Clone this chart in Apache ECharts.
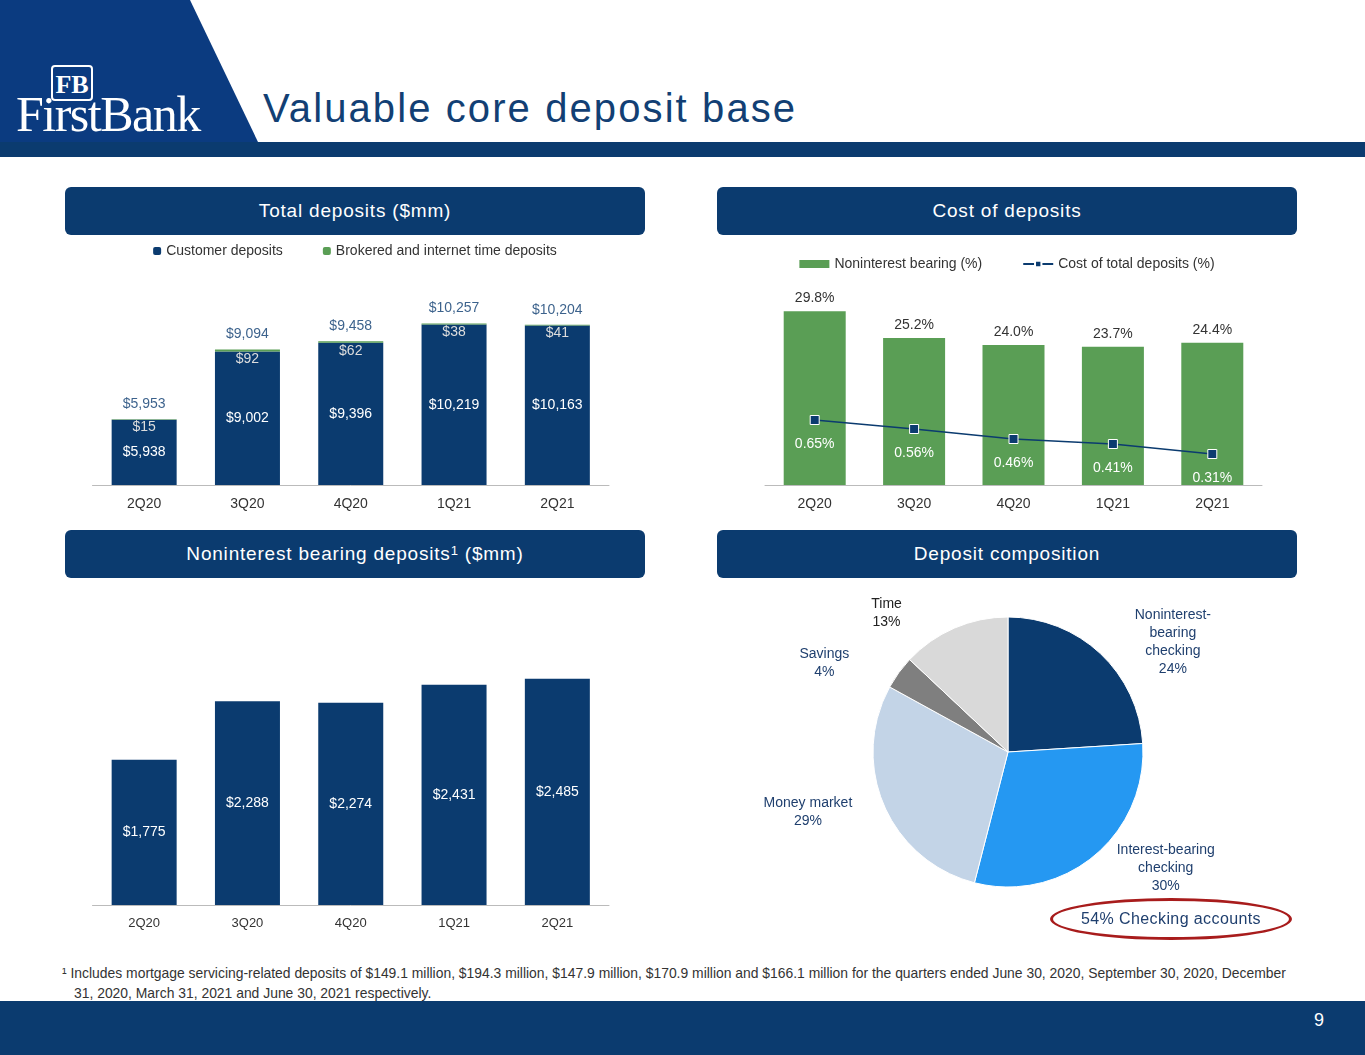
<!DOCTYPE html>
<html><head><meta charset="utf-8">
<script src="https://cdn.jsdelivr.net/npm/echarts@6/dist/echarts.min.js"></script>
<style>
body{margin:0;width:1365px;height:1055px;position:relative;background:#fff;font-family:"Liberation Sans",Arial,sans-serif;overflow:hidden}
.abs{position:absolute}
.hdr{position:absolute;height:48px;width:580px;background:#0b3b6f;color:#fff;border-radius:6px;font-size:19px;letter-spacing:0.8px;display:flex;align-items:center;justify-content:center}
</style></head><body>
<svg class="abs" style="left:0;top:0" width="1365" height="160">
  <polygon points="0,0 190,0 258,142 0,142" fill="#0b3b80"/>
  <rect x="0" y="142" width="1365" height="15" fill="#0b3b6f"/>
  <rect x="52" y="66" width="40" height="34" rx="3" fill="none" stroke="#fff" stroke-width="2"/>
  <text x="72" y="93" fill="#fff" font-family="Liberation Serif" font-size="26" text-anchor="middle" font-weight="bold">FB</text>
  <text x="16" y="131" fill="#fff" font-family="Liberation Serif" font-size="50" letter-spacing="-1.5">FirstBank</text>
</svg>
<div class="abs" style="left:263px;top:86px;font-size:40px;color:#123f74;letter-spacing:2.1px">Valuable core deposit base</div>
<div class="hdr" style="left:65px;top:187px">Total deposits ($mm)</div>
<div class="hdr" style="left:717px;top:187px">Cost of deposits</div>
<div class="hdr" style="left:65px;top:530px">Noninterest bearing deposits<sup style="font-size:13px;margin-top:-8px">1</sup>&nbsp;($mm)</div>
<div class="hdr" style="left:717px;top:530px">Deposit composition</div>
<div id="c1" class="abs" style="left:65px;top:235px;width:580px;height:285px"></div>
<div id="c2" class="abs" style="left:717px;top:235px;width:580px;height:285px"></div>
<div id="c3" class="abs" style="left:65px;top:578px;width:580px;height:360px"></div>
<div id="c4" class="abs" style="left:717px;top:578px;width:580px;height:360px"></div>
<div class="abs" style="left:1050px;top:898px;width:242px;height:42px;border:3px solid #a81c1c;border-radius:50%;box-sizing:border-box;display:flex;align-items:center;justify-content:center;color:#1f3f6e;font-size:16px;letter-spacing:0.4px;background:#fff">54% Checking accounts</div>
<div class="abs" style="left:62px;top:963px;width:1220px;font-size:13.9px;color:#333;line-height:20px;padding-left:12px;text-indent:-12px">¹ Includes mortgage servicing-related deposits of $149.1 million, $194.3 million, $147.9 million, $170.9 million and $166.1 million for the quarters ended June 30, 2020, September 30, 2020, December 31, 2020, March 31, 2021 and June 30, 2021 respectively.</div>
<div class="abs" style="left:0;top:1001px;width:1365px;height:54px;background:#0b3b6f"></div>
<div class="abs" style="left:1314px;top:1010px;color:#fff;font-size:18px">9</div>
<script>
const quarters = ['2Q20', '3Q20', '4Q20', '1Q21', '2Q21'];
const customerDeposits = [5938, 9002, 9396, 10219, 10163];
const brokeredDeposits = [15, 92, 62, 38, 41];
const totalDeposits = [5953, 9094, 9458, 10257, 10204];
const nonintBearingPct = [29.8, 25.2, 24.0, 23.7, 24.4];
const costTotalDeposits = [0.65, 0.56, 0.46, 0.41, 0.31];
const nonintDeposits = [1775, 2288, 2274, 2431, 2485];
const compNames = ['Noninterest-\nbearing\nchecking', 'Interest-bearing\nchecking', 'Money market', 'Savings', 'Time'];
const compValues = [24, 30, 29, 4, 13];

const navy = '#0b3b6f', green = '#5a9e55', txt = '#333';
const money = v => '$' + v.toLocaleString('en-US');
const font = 'Liberation Sans';

const xCat = (size) => ({
  type: 'category', data: quarters,
  axisLine: {lineStyle: {color: '#bbb'}}, axisTick: {show: false},
  axisLabel: {color: txt, fontSize: size, fontFamily: font, margin: 12}
});

// Total deposits
echarts.init(document.getElementById('c1')).setOption({
  animation: false,
  legend: {top: 4, left: 'center', itemWidth: 8, itemHeight: 8, itemGap: 40,
    textStyle: {color: txt, fontSize: 14, fontFamily: font}, data: ['Customer deposits', 'Brokered and internet time deposits']},
  grid: {left: 27.5, width: 516.5, top: 72, height: 178},
  xAxis: xCat(14),
  yAxis: {type: 'value', min: 3000, max: 11000, show: false},
  series: [
    {name: 'Customer deposits', type: 'bar', stack: 't', barWidth: 65, data: customerDeposits,
      itemStyle: {color: navy},
      label: {show: true, position: 'inside', color: '#fff', fontSize: 14, fontFamily: font, formatter: p => money(p.value)}},
    {name: 'Brokered and internet time deposits', type: 'bar', stack: 't', data: brokeredDeposits,
      itemStyle: {color: green},
      label: {show: true, position: 'bottom', distance: 1, color: '#ddd', fontSize: 14, fontFamily: font, formatter: p => money(p.value)}},
    {type: 'scatter', symbolSize: 0, data: totalDeposits, silent: true,
      label: {show: true, position: 'top', distance: 8, color: navy, fontSize: 14, fontFamily: font, formatter: p => money(p.value)}}
  ]
});

// Cost of deposits
echarts.init(document.getElementById('c2')).setOption({
  animation: false,
  legend: {top: 17, left: 'center', itemGap: 40,
    textStyle: {color: txt, fontSize: 14, fontFamily: font},
    data: [{name: 'Noninterest bearing (%)', icon: 'rect', itemStyle: {color: green}},
           {name: 'Cost of total deposits (%)'}], itemWidth: 30, itemHeight: 8},
  grid: {left: 48, width: 497, top: 75, height: 175},
  xAxis: xCat(14),
  yAxis: [{type: 'value', min: 0, max: 30, show: false}, {type: 'value', min: 0, max: 1.75, show: false}],
  series: [
    {name: 'Noninterest bearing (%)', type: 'bar', barWidth: 62, data: nonintBearingPct, itemStyle: {color: green},
      label: {show: true, position: 'top', distance: 6, color: txt, fontSize: 14, fontFamily: font, formatter: p => p.value.toFixed(1) + '%'}},
    {name: 'Cost of total deposits (%)', type: 'line', yAxisIndex: 1, data: costTotalDeposits,
      symbol: 'rect', symbolSize: 9, lineStyle: {color: navy, width: 1.5}, itemStyle: {color: navy, borderColor: '#fff', borderWidth: 1},
      label: {show: true, position: 'bottom', distance: 12, color: '#fff', fontSize: 14, fontFamily: font, formatter: p => p.value.toFixed(2) + '%'}}
  ]
});

// Noninterest bearing deposits
echarts.init(document.getElementById('c3')).setOption({
  animation: false,
  grid: {left: 27.5, width: 516.5, top: 99, height: 228},
  xAxis: xCat(13),
  yAxis: {type: 'value', min: 500, max: 2500, show: false},
  series: [{type: 'bar', barWidth: 65, data: nonintDeposits, itemStyle: {color: navy},
    label: {show: true, position: 'inside', color: '#fff', fontSize: 14, fontFamily: font, formatter: p => money(p.value)}}]
});

// Deposit composition
const compColors = ['#0b3b6f', '#2598f2', '#c3d4e7', '#7f7f7f', '#d9d9d9'];
echarts.init(document.getElementById('c4')).setOption({
  animation: false,
  series: [{type: 'pie', center: [291, 174], radius: 135, startAngle: 90, clockwise: true,
    data: compNames.map((n, i) => ({name: n, value: compValues[i], itemStyle: {color: compColors[i]},
      label: {color: i === 4 ? '#222' : '#1f3f6e'}})),
    itemStyle: {borderColor: '#fff', borderWidth: 1},
    label: {show: true, position: 'outside', fontSize: 14, fontFamily: font, lineHeight: 18,
      formatter: p => p.name.split('\n').concat(p.value + '%').map(s => '{c|' + s + '}').join('\n'),
      rich: {c: {align: 'center', width: 105, fontSize: 14, lineHeight: 18, fontFamily: font}}},
    labelLine: {show: false, length: 16, length2: 4}
  }]
});
</script>
</body></html>
